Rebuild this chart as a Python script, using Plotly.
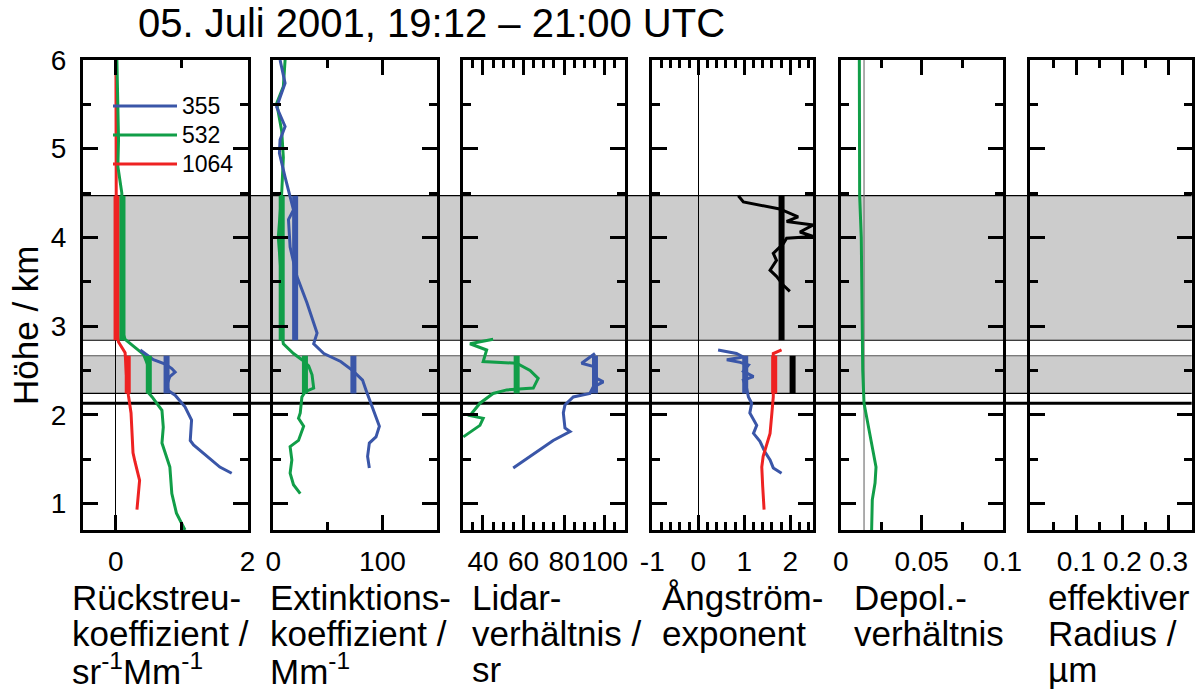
import plotly.graph_objects as go

# ---------------- data ----------------
# layer boundaries (km)
LAYER1 = [2.84, 4.47]
LAYER2 = [2.24, 2.665]
PBL_TOP = 2.13
MOLECULAR_DEPOL = 0.0144

# Backscatter coefficient / sr^-1 Mm^-1
H_BSC_1064 = [6.0, 5.0, 4.47, 3.5, 2.95, 2.82, 2.70, 2.45, 2.22, 2.02, 1.57, 1.47, 1.26, 0.93]
BSC_1064 = [0.0, 0.0, 0.0, 0.0, 0.01, 0.04, 0.14, 0.16, 0.19, 0.23, 0.26, 0.29, 0.36, 0.32]
H_BSC_532 = [6.0, 5.8, 5.5, 5.1, 4.8, 4.5, 4.0, 3.5, 2.95, 2.85, 2.77, 2.68, 2.55, 2.4, 2.25,
             2.2, 2.05, 1.86, 1.68, 1.41, 1.11, 0.89, 0.7]
BSC_532 = [0.015, 0.02, 0.03, 0.04, 0.03, 0.09, 0.09, 0.09, 0.09, 0.14, 0.27, 0.42, 0.49, 0.5, 0.49,
           0.55, 0.70, 0.72, 0.70, 0.82, 0.85, 0.92, 1.05]
H_BSC_355 = [2.73, 2.62, 2.57, 2.52, 2.48, 2.43, 2.33, 2.27, 2.22, 2.09, 1.94, 1.71, 1.66, 1.53, 1.41, 1.34]
BSC_355 = [0.37, 0.57, 0.75, 0.85, 0.90, 0.82, 0.77, 0.80, 0.90, 1.05, 1.15, 1.13, 1.18, 1.38, 1.58, 1.76]

# Extinction coefficient / Mm^-1
H_EXT_355 = [6.0, 5.74, 5.47, 5.25, 5.10, 4.95, 4.68, 4.47, 4.31, 4.20, 3.89, 3.56, 3.26, 2.92,
             2.80, 2.69, 2.60, 2.50, 2.39, 2.28, 2.13, 1.87, 1.75, 1.68, 1.53, 1.40]
EXT_355 = [6.2, 10.8, 3.1, 10.8, 6.2, 5.6, 10.8, 15.4, 18.5, 13.9, 15.4, 21.6, 30.9, 40.1,
           37.0, 46.3, 61.7, 72.5, 81.8, 84.9, 89.5, 97.2, 94.1, 88.0, 86.4, 88.0]
H_EXT_532 = [6.0, 5.7, 5.51, 5.2, 4.9, 4.5, 4.0, 3.5, 2.92, 2.80, 2.69, 2.62, 2.55, 2.45, 2.30,
             2.26, 2.20, 2.02, 1.96, 1.87, 1.71, 1.64, 1.49, 1.34, 1.21, 1.11]
EXT_532 = [10.8, 9.2, 3.1, 7.7, 9.2, 7.7, 4.6, 7.7, 7.7, 9.2, 18.5, 26.2, 32.4, 35.5, 37.0,
           29.3, 26.2, 24.7, 23.1, 27.8, 23.1, 15.4, 17.0, 15.4, 18.5, 24.7]

# Lidar ratio / sr
H_LR_532 = [2.85, 2.80, 2.73, 2.60, 2.58, 2.50, 2.41, 2.30, 2.28, 2.24, 2.13, 1.99, 1.96, 1.88, 1.75]
LR_532 = [45, 33.6, 41.8, 40.1, 56.6, 63.2, 67.2, 64.8, 51.7, 45, 38.5, 33.6, 40.1, 38.5, 30.3]
H_LR_355 = [2.69, 2.58, 2.54, 2.41, 2.37, 2.31, 2.24, 2.20, 2.11, 2.02, 1.85, 1.81, 1.71, 1.40]
LR_355 = [95.2, 88.6, 95.2, 96.0, 99.3, 94.3, 92.7, 84.5, 80.4, 79.6, 80.4, 82.9, 74.6, 54.9]

# Angstroem exponent
H_AE_UPPER = [4.47, 4.40, 4.32, 4.23, 4.18, 4.14, 4.06, 4.01, 3.99, 3.93, 3.82, 3.74, 3.63, 3.56, 3.46, 3.39]
AE_UPPER = [0.87, 0.98, 1.77, 2.17, 1.92, 2.5, 2.21, 2.5, 1.92, 1.85, 1.63, 1.70, 1.56, 1.70, 1.85, 1.99]
H_AE_355 = [2.73, 2.69, 2.65, 2.62, 2.59, 2.56, 2.49, 2.43, 2.39, 2.30, 2.20, 2.13, 2.02, 1.88,
            1.79, 1.70, 1.58, 1.49, 1.40, 1.34]
AE_355 = [0.43, 0.83, 0.98, 0.62, 0.91, 1.09, 0.98, 1.20, 0.98, 1.05, 1.09, 1.16, 1.12, 1.27,
          1.20, 1.34, 1.45, 1.56, 1.63, 1.81]
H_AE_1064 = [2.73, 2.69, 2.45, 2.20, 2.02, 1.79, 1.53, 1.41, 1.19, 0.93]
AE_1064 = [1.81, 1.63, 1.63, 1.63, 1.60, 1.56, 1.41, 1.38, 1.40, 1.43]

# Depolarisation ratio
H_DEP = [6.0, 5.0, 4.47, 4.0, 3.0, 2.5, 2.13, 1.79, 1.41, 1.23, 1.04, 0.7]
DEP = [0.0115, 0.0119, 0.0117, 0.0127, 0.0131, 0.0136, 0.0144, 0.0181, 0.0218, 0.0212, 0.0195, 0.0191]

# layer mean values (thick bars): (panel, value, layer, colour key)
MEANS = [
    (1, 0.01, 1, "1064"), (1, 0.10, 1, "532"),
    (1, 0.18, 2, "1064"), (1, 0.50, 2, "532"), (1, 0.77, 2, "355"),
    (2, 20.0, 1, "355"), (2, 7.7, 1, "532"),
    (2, 29.0, 2, "532"), (2, 73.4, 2, "355"),
    (3, 56.6, 2, "532"), (3, 95.2, 2, "355"),
    (4, 1.81, 1, "ae"), (4, 2.05, 2, "ae"), (4, 1.02, 2, "355"), (4, 1.65, 2, "1064"),
]

WAVELENGTHS = ["355", "532", "1064"]

PANEL_RANGES = [[-0.5, 2], [0, 150], [30, 110], [-1, 2.5], [0, 0.1], [0, 0.35]]
PANEL_TICKVALS = [[0, 2], [0, 100], [40, 60, 80, 100], [-1, 0, 1, 2], [0, 0.05, 0.1], [0.1, 0.2, 0.3]]
PANEL_TICKTEXT = [["0", "2"], ["0", "100"], ["40", "60", "80", "100"], ["-1", "0", "1", "2"],
                  ["0", "0.05", "0.1"], ["0.1", "0.2", "0.3"]]
PANEL_MINOR = [1, 50, 5, 0.2, 0.025, 0.05]
PANEL_TITLES = [
    ["Rückstreu-", "koeffizient /", "sr<sup>-1</sup>Mm<sup>-1</sup>"],
    ["Extinktions-", "koeffizient /", "Mm<sup>-1</sup>"],
    ["Lidar-", "verhältnis /", "sr"],
    ["Ångström-", "exponent"],
    ["Depol.-", "verhältnis"],
    ["effektiver", "Radius /", "µm"],
]
Y_RANGE = [0.7, 6]
TITLE = "05. Juli 2001, 19:12 – 21:00 UTC"
Y_TITLE = "Höhe / km"

# ---------------- styling / layout ----------------
W, H = 1199, 695
FONT = "Liberation Sans, Arial, sans-serif"
COL = {"355": "#3a56a8", "532": "#119e48", "1064": "#ee2222", "ae": "#000000"}
PANEL_PX = [(83, 247.5), (273.3, 437), (462.7, 625), (652.3, 813.3), (840.7, 1002.7), (1030, 1191.7)]
TITLE_X_PX = [70, 268, 470, 660, 852, 1046]
Y_TOP_PX, Y_BOT_PX = 60, 530
TICK_FONT = 28
LABEL_FONT = 35


def px(x):
    return x / W


def py(y):
    return 1 - y / H


fig = go.Figure()


def add_line(panel, xs, ys, color, width=3):
    sfx = "" if panel == 1 else str(panel)
    fig.add_trace(go.Scatter(x=xs, y=ys, mode="lines", xaxis="x" + sfx, yaxis="y" + sfx,
                             line=dict(color=color, width=width), showlegend=False,
                             hoverinfo="skip"))


add_line(1, BSC_1064, H_BSC_1064, COL["1064"])
add_line(1, BSC_532, H_BSC_532, COL["532"])
add_line(1, BSC_355, H_BSC_355, COL["355"])
add_line(2, EXT_532, H_EXT_532, COL["532"])
add_line(2, EXT_355, H_EXT_355, COL["355"])
add_line(3, LR_532, H_LR_532, COL["532"])
add_line(3, LR_355, H_LR_355, COL["355"])
add_line(4, AE_UPPER, H_AE_UPPER, COL["ae"])
add_line(4, AE_355, H_AE_355, COL["355"])
add_line(4, AE_1064, H_AE_1064, COL["1064"])
add_line(5, DEP, H_DEP, COL["532"])
add_line(6, [None], [None], "black")  # empty panel (effective radius: no data)

for panel, val, layer, key in MEANS:
    lo, hi = LAYER1 if layer == 1 else LAYER2
    add_line(panel, [val, val], [lo, hi], COL[key], width=6)

layout = dict(
    width=W, height=H, margin=dict(l=0, r=0, t=0, b=0, pad=0, autoexpand=False),
    autosize=False,
    paper_bgcolor="white", plot_bgcolor="rgba(0,0,0,0)",
    font=dict(family=FONT, color="black", size=TICK_FONT),
    showlegend=False,
)

ydom = [py(Y_BOT_PX), py(Y_TOP_PX)]
for i in range(6):
    sfx = "" if i == 0 else str(i + 1)
    x0, x1 = PANEL_PX[i]
    layout["xaxis" + sfx] = dict(
        domain=[px(x0), px(x1)], range=PANEL_RANGES[i], anchor="y" + sfx,
        showline=True, linewidth=3, linecolor="black", mirror="ticks",
        ticks="inside", ticklen=15, tickwidth=3, tickcolor="black",
        tickmode="array", tickvals=PANEL_TICKVALS[i], ticktext=PANEL_TICKTEXT[i], tickangle=0,
        minor=dict(dtick=PANEL_MINOR[i], ticks="inside", ticklen=8, tickwidth=3, tickcolor="black",
                   showgrid=False),
        tickfont=dict(size=TICK_FONT, family=FONT), ticklabelstandoff=4,
        showgrid=False, zeroline=(i in (0, 3)), zerolinecolor="black", zerolinewidth=1,
        automargin=False, fixedrange=True,
    )
    layout["yaxis" + sfx] = dict(
        domain=ydom, range=Y_RANGE, anchor="x" + sfx,
        showline=True, linewidth=3, linecolor="black", mirror="ticks",
        ticks="inside", ticklen=15, tickwidth=3, tickcolor="black",
        dtick=1, tick0=0,
        minor=dict(dtick=0.5, ticks="inside", ticklen=8, tickwidth=3, tickcolor="black", showgrid=False),
        showticklabels=(i == 0), tickfont=dict(size=TICK_FONT, family=FONT), ticklabelstandoff=8,
        showgrid=False, zeroline=False, automargin=False, fixedrange=True,
    )

shapes = []
band_x0, band_x1 = px(PANEL_PX[0][0]), px(PANEL_PX[-1][1])
for lo, hi in (LAYER1, LAYER2):
    shapes.append(dict(type="rect", xref="paper", yref="y", x0=band_x0, x1=band_x1, y0=lo, y1=hi,
                       fillcolor="#cccccc", line=dict(width=0), layer="below"))
for yv, w, c in ((LAYER1[0], 1.2, "black"), (LAYER1[1], 1.2, "black"), (LAYER2[1], 1.2, "#555555"),
                 (LAYER2[0], 1.2, "black"), (PBL_TOP, 3, "black")):
    shapes.append(dict(type="line", xref="paper", yref="y", x0=band_x0, x1=band_x1, y0=yv, y1=yv,
                       line=dict(color=c, width=w), layer="below"))
shapes.append(dict(type="line", xref="x5", yref="y5 domain", x0=MOLECULAR_DEPOL, x1=MOLECULAR_DEPOL,
                   y0=0, y1=1, line=dict(color="#777777", width=1.2), layer="below"))

# legend (drawn in panel 1)
annotations = []
LEG_Y_PX = [106, 135, 164]
for name, ly in zip(WAVELENGTHS, LEG_Y_PX):
    shapes.append(dict(type="line", xref="paper", yref="paper", x0=px(113), x1=px(177),
                       y0=py(ly), y1=py(ly), line=dict(color=COL[name], width=3)))
    annotations.append(dict(text=name, xref="paper", yref="paper", x=px(180), y=py(ly),
                            xanchor="left", yanchor="middle", showarrow=False,
                            font=dict(size=23, family=FONT)))

# axis titles below panels
LINE_Y_PX = [597, 633, 669]
for i, lines in enumerate(PANEL_TITLES):
    for j, t in enumerate(lines):
        annotations.append(dict(text=t, xref="paper", yref="paper", x=px(TITLE_X_PX[i]),
                                y=py(LINE_Y_PX[j]), xanchor="left", yanchor="middle",
                                showarrow=False, font=dict(size=LABEL_FONT, family=FONT)))

annotations.append(dict(text=TITLE, xref="paper", yref="paper", x=px(136), y=py(23),
                        xanchor="left", yanchor="middle", showarrow=False,
                        font=dict(size=40, family=FONT)))
annotations.append(dict(text=Y_TITLE, xref="paper", yref="paper", x=px(25), y=py(325),
                        xanchor="center", yanchor="middle", textangle=-90, showarrow=False,
                        font=dict(size=35, family=FONT)))

layout["shapes"] = shapes
layout["annotations"] = annotations
fig.update_layout(**layout)
fig.write_html("out.html")
